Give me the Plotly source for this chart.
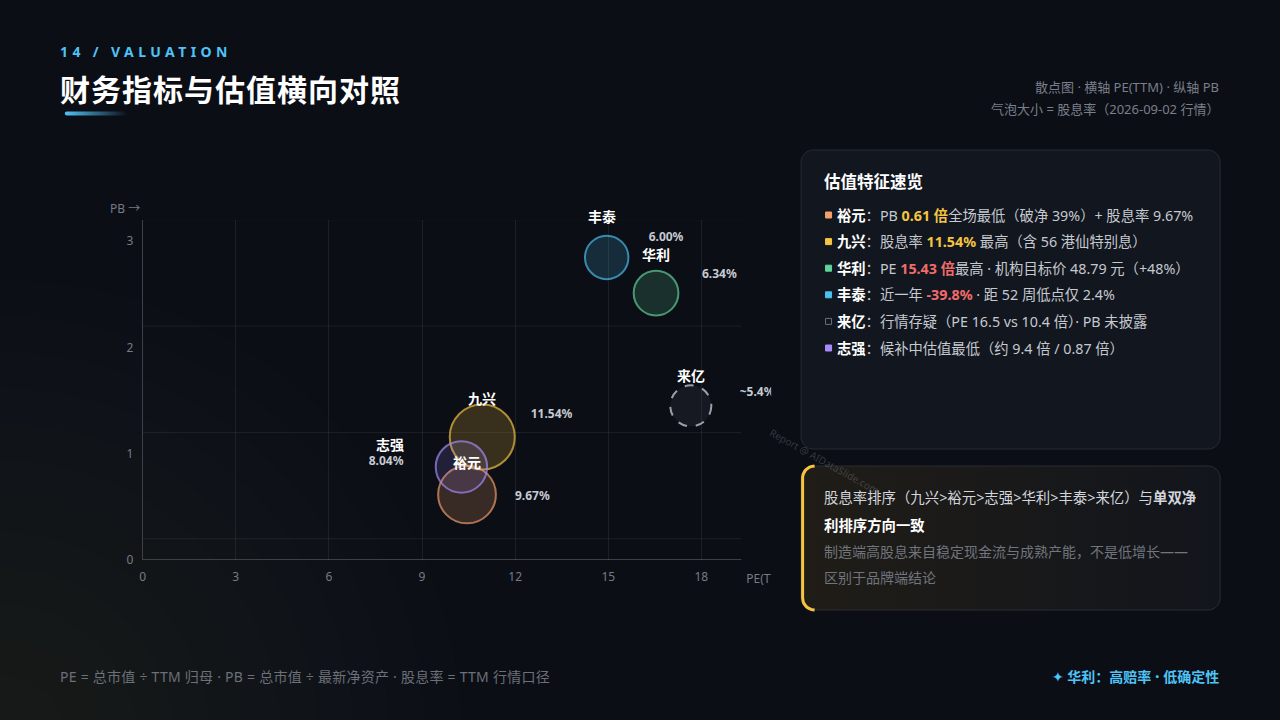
import math
import plotly.graph_objects as go

W, H = 1280, 720
PH = 712  # effective plotting height observed in the rendered page
FONT = "Noto Sans, Noto Sans CJK SC, DejaVu Sans, sans-serif"
CJK = "Noto Sans CJK SC, Noto Sans, DejaVu Sans, sans-serif"

# ---------------- data ----------------
companies = ["丰泰", "华利", "来亿", "九兴", "裕元", "志强"]
pe_ttm = [14.95, 16.54, 17.66, 10.94, 10.45, 10.27]
pb = [2.845, 2.51, 1.45, 1.157, 0.616, 0.875]
dividend_yield = [6.00, 6.34, 5.4, 11.54, 9.67, 8.04]
yield_is_approx = [False, False, True, False, False, False]
x_tick_vals = [0, 3, 6, 9, 12, 15, 18]
y_tick_vals = [0, 1, 2, 3]

panel_items = [
    ("裕元", ["PB ", ("0.61 倍", "#f5c542"), "全场最低（破净 39%）+ 股息率 9.67%"]),
    ("九兴", ["股息率 ", ("11.54%", "#f5c542"), " 最高（含 56 港仙特别息）"]),
    ("华利", ["PE ", ("15.43 倍", "#f26b6b"), "最高 · 机构目标价 48.79 元（+48%）"]),
    ("丰泰", ["近一年 ", ("-39.8%", "#f26b6b"), " · 距 52 周低点仅 2.4%"]),
    ("来亿", ["行情存疑（PE 16.5 vs 10.4 倍）· PB 未披露"]),
    ("志强", ["候补中估值最低（约 9.4 倍 / 0.87 倍）"]),
]

# ---------------- styles ----------------
STYLE = {  # stroke colour, fill alpha
    "丰泰": ("#4cc0f0", 0.25),
    "华利": ("#5fd49a", 0.25),
    "来亿": ("#8a8f98", 0.13),
    "九兴": ("#f6c543", 0.27),
    "裕元": ("#f4a06a", 0.28),
    "志强": ("#a78bfa", 0.22),
}
DASHED = {"来亿"}
NAME_OFFSET = {"丰泰": (-5, 41), "华利": (0, 39.5), "来亿": (0, 31),
               "九兴": (0, 39), "裕元": (0, 33), "志强": (-71, 23)}
YIELD_OFFSET = {"丰泰": (59.5, 19), "华利": (63.5, 18), "来亿": (66.5, 12.5),
                "九兴": (69.5, 22), "裕元": (65.5, -2.5), "志强": (-75.5, 5)}

# chart geometry (pixels)
CX0, CX_CLIP, CX_END = 140, 770, 740
CY0, CY_TOP = 560, 220
PXX = (700 - 140) / 18.0
PYY = (560 - 241) / 3.0
XMAX = (CX_CLIP - CX0) / PXX
XEND = (CX_END - CX0) / PXX
YMAX = (CY0 - CY_TOP) / PYY


def fy(y):
    return 1 - y / PH


def rgba(hexc, a):
    h = hexc.lstrip("#")
    r, g, b = int(h[0:2], 16), int(h[2:4], 16), int(h[4:6], 16)
    return f"rgba({r},{g},{b},{a})"


def radius(y):
    return 10 + 1.95 * y


def rrect(x0, y0, x1, y1, r, n=10):
    xs, ys = [], []
    corners = [(x1 - r, y0 + r, -90, 0), (x1 - r, y1 - r, 0, 90),
               (x0 + r, y1 - r, 90, 180), (x0 + r, y0 + r, 180, 270)]
    for cx, cy, a0, a1 in corners:
        for k in range(n + 1):
            a = math.radians(a0 + (a1 - a0) * k / n)
            xs.append(cx + r * math.cos(a))
            ys.append(cy + r * math.sin(a))
    xs.append(xs[0])
    ys.append(ys[0])
    return xs, ys


fig = go.Figure()
shapes = []

# ---------- background glow (bottom-left), paper shapes below everything ----------
GCX, GCY = 0, 740
for k in range(12):
    r = 460 - k * 36
    shapes.append(dict(type="circle", xref="paper", yref="paper", layer="below",
                       x0=(GCX - r) / W, x1=(GCX + r) / W,
                       y0=fy(GCY + r), y1=fy(GCY - r),
                       fillcolor="rgba(52,46,38,0.045)", line=dict(width=0)))

# ---------- page decorations (pixel axes x/y) ----------
px_, py_ = rrect(800, 150, 1220, 449, 12)
fig.add_trace(go.Scatter(x=px_, y=py_, fill="toself", fillcolor="#12161e",
                         line=dict(color="#262b34", width=1), mode="lines",
                         hoverinfo="skip", showlegend=False, xaxis="x", yaxis="y"))

px2, py2 = rrect(800, 466, 1220, 610, 12)
fig.add_trace(go.Scatter(
    x=px2, y=py2, fill="toself", mode="lines",
    fillgradient=dict(type="horizontal", colorscale=[[0, "#201d17"], [1, "#12151c"]]),
    line=dict(color="#2a2d34", width=1),
    hoverinfo="skip", showlegend=False, xaxis="x", yaxis="y"))

# left yellow bar of panel 2
bx, by = [], []
for cx, cy, a0, a1 in [(812, 478, 270, 180), (812, 598, 180, 90)]:
    for k in range(11):
        a = math.radians(a0 + (a1 - a0) * k / 10)
        bx.append(cx + 12 * math.cos(a) + 1.5)
        by.append(cy + 12 * math.sin(a))
fig.add_trace(go.Scatter(x=bx, y=by, mode="lines", line=dict(color="#f5c542", width=3),
                         hoverinfo="skip", showlegend=False, xaxis="x", yaxis="y"))

# title underline
ux, uy = rrect(62, 111.5, 125, 115.5, 2, n=4)
fig.add_trace(go.Scatter(
    x=ux, y=uy, fill="toself", mode="none",
    fillgradient=dict(type="horizontal",
                      colorscale=[[0, "rgba(79,195,247,1)"], [1, "rgba(79,195,247,0)"]]),
    hoverinfo="skip", showlegend=False, xaxis="x", yaxis="y"))

# panel item squares
ITEM_Y0, ITEM_DY = 215, 26.6
sq_colors = ["#6b7079" if n in DASHED else STYLE[n][0] for n, _ in panel_items]
sq_symbols = ["square-open" if n in DASHED else "square" for n, _ in panel_items]
fig.add_trace(go.Scatter(
    x=[827.5] * len(panel_items), y=[ITEM_Y0 + i * ITEM_DY for i in range(len(panel_items))],
    mode="markers",
    marker=dict(symbol=sq_symbols, size=6, color=sq_colors,
                line=dict(color=sq_colors, width=1)),
    hoverinfo="skip", showlegend=False, xaxis="x", yaxis="y"))

# ---------- bubble chart (x2/y2) ----------
fill_cols = [rgba(STYLE[c][0], STYLE[c][1]) for c in companies]
line_cols = [STYLE[c][0] for c in companies]
line_w = [0 if c in DASHED else 2 for c in companies]
sizes = [2 * radius(v) for v in dividend_yield]

fig.add_trace(go.Scatter(
    x=pe_ttm, y=pb, mode="markers", xaxis="x2", yaxis="y2",
    marker=dict(size=sizes, sizemode="diameter", color=fill_cols,
                line=dict(color=line_cols, width=line_w)),
    text=companies, hovertemplate="%{text}<br>PE %{x}<br>PB %{y}<extra></extra>",
    cliponaxis=False, showlegend=False))

# yield labels (clipped at chart container edge)
ylab = [(f"~{v:.1f}%" if ap else f"{v:.2f}%") for v, ap in zip(dividend_yield, yield_is_approx)]
fig.add_trace(go.Scatter(
    x=[p + YIELD_OFFSET[c][0] / PXX for p, c in zip(pe_ttm, companies)],
    y=[b + YIELD_OFFSET[c][1] / PYY for b, c in zip(pb, companies)],
    mode="text", text=ylab, textposition="middle center",
    textfont=dict(family=FONT, size=12, color="#c6cad1", weight="bold"),
    cliponaxis=True, hoverinfo="skip", showlegend=False, xaxis="x2", yaxis="y2"))

# x axis title, clipped
fig.add_trace(go.Scatter(
    x=[745], y=[580], mode="text", text=["PE(TTM) →"], textposition="middle right",
    textfont=dict(family=FONT, size=12, color="#767b85"),
    cliponaxis=True, hoverinfo="skip", showlegend=False, xaxis="x3", yaxis="y3"))

for k in range(4):
    gyv = k + 0.2
    shapes.append(dict(type="line", xref="x2", yref="y2", x0=0, x1=XEND, y0=gyv, y1=gyv,
                       line=dict(color="rgba(255,255,255,0.07)", width=1), layer="below"))
shapes.append(dict(type="line", xref="x2", yref="y2", x0=0, x1=XEND, y0=0, y1=0,
                   line=dict(color="#3b4049", width=2), layer="below"))
for c, xv, yv, dv in zip(companies, pe_ttm, pb, dividend_yield):
    if c in DASHED:
        r = radius(dv)
        shapes.append(dict(type="circle", xref="x2", yref="y2", xsizemode="pixel",
                           ysizemode="pixel", xanchor=xv, yanchor=yv,
                           x0=-r, x1=r, y0=-r, y1=r,
                           line=dict(color="#9aa0a8", width=2, dash="dash"), layer="above"))

ann = []
for c, xv, yv in zip(companies, pe_ttm, pb):
    dx, dy = NAME_OFFSET[c]
    ann.append(dict(x=xv, y=yv, xref="x2", yref="y2", xshift=dx, yshift=dy,
                    text=f"<b>{c}</b>", showarrow=False,
                    font=dict(family=CJK, size=14, color="#ffffff")))


def page_text(text, x, y, size, color, xanchor="left", family=FONT):
    ann.append(dict(x=x, y=y, xref="x", yref="y", text=text, showarrow=False,
                    xanchor=xanchor, yanchor="middle",
                    font=dict(family=family, size=size, color=color)))


page_text("PB →", 105, 208, 12, "#767b85")

# header
page_text('<span style="letter-spacing:4.4px"><b>14 / VALUATION</b></span>', 55, 51, 14, "#4fc3f7")
page_text('<span style="letter-spacing:1px"><b>财务指标与估值横向对照</b></span>', 55, 88, 30, "#ffffff",
          family=CJK)
page_text("散点图 · 横轴 PE(TTM) · 纵轴 PB", 1221, 87, 13, "#7a7f89", "right")
page_text("气泡大小 = 股息率（2026-09-02 行情）", 1221, 109, 13, "#7a7f89", "right")

# panel 1
page_text("<b>估值特征速览</b>", 821, 181, 16.5, "#ffffff", family=CJK)
for i, (name, parts) in enumerate(panel_items):
    s = f'<span style="color:#ffffff"><b>{name}</b></span>：'
    for p in parts:
        if isinstance(p, tuple):
            s += f'<span style="color:{p[1]}"><b>{p[0]}</b></span>'
        else:
            s += p
    page_text(s, 834, ITEM_Y0 + i * ITEM_DY, 14.3, "#c5c9d0")

# panel 2
page_text("股息率排序（九兴>裕元>志强>华利>丰泰>来亿）与<b>单双净</b>", 821, 497, 14.4, "#d2d6dc")
page_text("<b>利排序方向一致</b>", 821, 524, 14.4, "#ffffff", family=CJK)
page_text("制造端高股息来自稳定现金流与成熟产能，不是低增长——", 821, 551, 14, "#70757e")
page_text("区别于品牌端结论", 821, 577, 14, "#70757e", family=CJK)

# footer
page_text('<span style="letter-spacing:0.25px">PE = 总市值 ÷ TTM 归母 · PB = 总市值 ÷ 最新净资产 · 股息率 = TTM 行情口径</span>',
          55, 676, 14, "#6b7079")
page_text('<b>✦ 华利：高赔率 <span style="font-size:16px">·</span> 低确定性</b>',
          1221, 676, 14, "#4fc3f7", "right")

# watermark
ann.append(dict(x=823, y=461, xref="x", yref="y", text="Report @ AIDataSlide.com",
                showarrow=False, textangle=29,
                font=dict(family=FONT, size=10, color="rgba(170,175,185,0.28)")))

fig.update_layout(
    width=W, height=H, margin=dict(l=0, r=0, t=0, b=0),
    paper_bgcolor="#0b0e15", plot_bgcolor="rgba(0,0,0,0)",
    showlegend=False, shapes=shapes, annotations=ann,
    xaxis=dict(domain=[0, 1], range=[0, W], visible=False, fixedrange=True),
    yaxis=dict(domain=[0, 1], range=[PH, 0], visible=False, fixedrange=True),
    xaxis2=dict(domain=[CX0 / W, CX_CLIP / W], range=[0, XMAX], anchor="y2",
                tickvals=x_tick_vals, showgrid=True, gridcolor="rgba(255,255,255,0.07)",
                gridwidth=1, zeroline=False, showline=False, ticks="",
                ticklabelstandoff=8,
                tickfont=dict(family=FONT, size=12, color="#767b85"), fixedrange=True),
    yaxis2=dict(domain=[fy(CY0), fy(CY_TOP)], range=[0, YMAX], anchor="x2",
                tickvals=y_tick_vals, showgrid=False, zeroline=False, showline=True,
                linecolor="#3b4049", linewidth=1, ticks="", ticklabelstandoff=6,
                tickfont=dict(family=FONT, size=12, color="#767b85"), fixedrange=True),
    xaxis3=dict(domain=[CX0 / W, CX_CLIP / W], range=[CX0, CX_CLIP], anchor="y3",
                visible=False, fixedrange=True),
    yaxis3=dict(domain=[fy(595), fy(565)], range=[595, 565], anchor="x3",
                visible=False, fixedrange=True),
)

fig.write_html(
    "out.html",
    config={"displayModeBar": False},
    post_script=("document.documentElement.style.margin='0';"
                 "document.documentElement.style.overflow='hidden';"
                 "document.body.style.margin='0';"
                 "document.body.style.overflow='hidden';"
                 "document.body.style.background='#0b0e15';"),
)
